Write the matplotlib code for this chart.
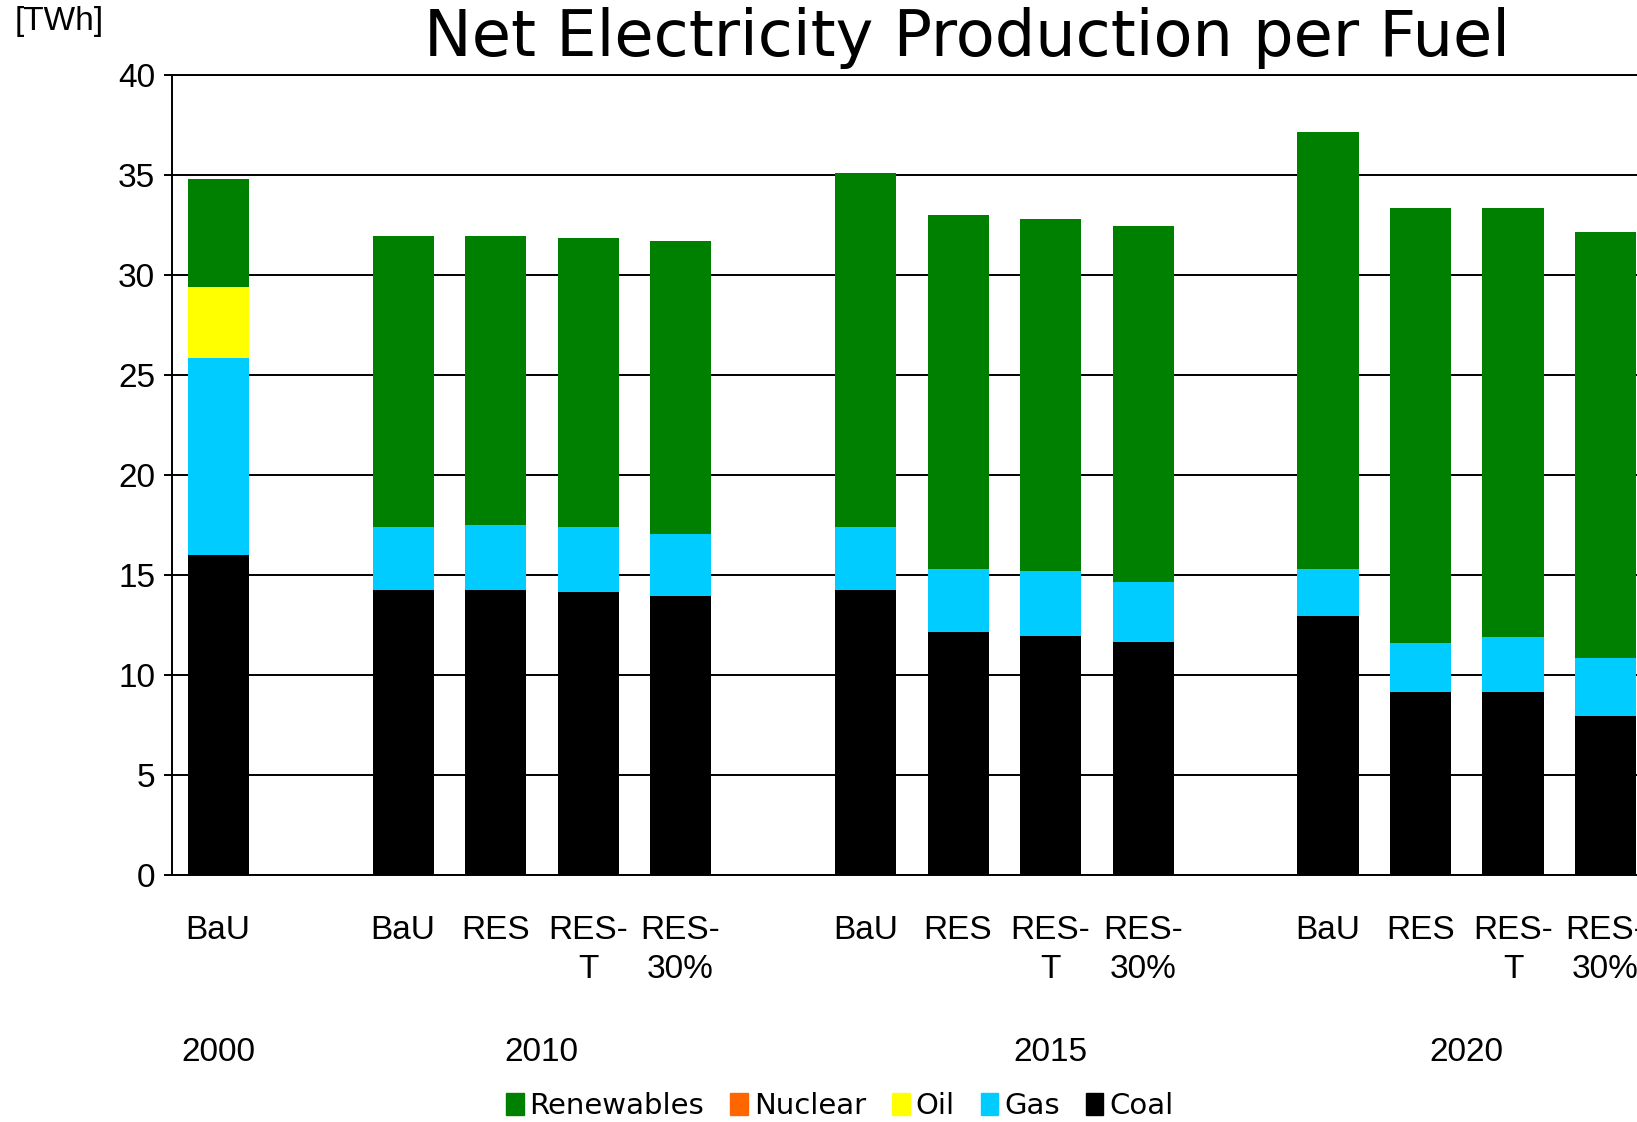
import matplotlib.pyplot as plt
from matplotlib.patches import Patch
from matplotlib.transforms import blended_transform_factory

# bar slots (None = empty slot between year groups)
scenarios = ['BaU', None, 'BaU', 'RES', 'RES-\nT', 'RES-\n30%', None,
             'BaU', 'RES', 'RES-\nT', 'RES-\n30%', None,
             'BaU', 'RES', 'RES-\nT', 'RES-\n30%']

years = ['2000', '2010', '2015', '2020']
year_pos = [0, 3.5, 9, 13.5]

# TWh per fuel, one value per slot
coal = [16.0, 0, 14.26, 14.26, 14.15, 13.94, 0,
        14.26, 12.17, 11.96, 11.64, 0,
        12.95, 9.14, 9.14, 7.94]
gas = [9.85, 0, 3.13, 3.23, 3.24, 3.14, 0,
       3.13, 3.13, 3.24, 3.03, 0,
       2.35, 2.45, 2.77, 2.92]
oil = [3.55, 0, 0, 0, 0, 0, 0, 0, 0, 0, 0, 0, 0, 0, 0, 0]
nuclear = [0] * 16
renewables = [5.43, 0, 14.57, 14.47, 14.46, 14.62, 0,
              17.70, 17.70, 17.59, 17.81, 0,
              21.88, 21.78, 21.46, 21.31]

fuels = ['Coal', 'Gas', 'Oil', 'Nuclear', 'Renewables']
values = [coal, gas, oil, nuclear, renewables]
colors = ['#000000', '#00CCFF', '#FFFF00', '#FF6600', '#008000']

plt.rcParams['font.family'] = ['Liberation Sans', 'DejaVu Sans']

fig = plt.figure(figsize=(16.37, 11.22), dpi=100)
ax = fig.add_axes([0.105, 0.22, 0.904, 0.713])

x = list(range(len(scenarios)))
bottom = [0.0] * len(x)
for name, vals, col in zip(fuels, values, colors):
    ax.bar(x, vals, width=0.66, bottom=bottom, color=col, label=name, zorder=3)
    bottom = [b + v for b, v in zip(bottom, vals)]

ax.set_xlim(-0.5, len(x) - 0.5)
ax.set_ylim(0, 40)
ax.set_yticks(range(0, 41, 5))
ax.yaxis.grid(True, color='black', linewidth=1.4, zorder=0)
ax.set_axisbelow(True)
for s in ['left', 'bottom', 'top']:
    ax.spines[s].set_linewidth(1.4)
ax.spines['right'].set_visible(False)
ax.tick_params(axis='y', labelsize=24, length=6, width=1.4, pad=6)

ticks = [i for i, s in enumerate(scenarios) if s]
ax.set_xticks(ticks)
ax.set_xticklabels([scenarios[i] for i in ticks], fontsize=24, linespacing=1.3)
ax.tick_params(axis='x', length=0, pad=29)

trans = blended_transform_factory(ax.transData, ax.transAxes)
for yr, p in zip(years, year_pos):
    ax.text(p, -0.222, yr, transform=trans, ha='center', va='center', fontsize=24)

fig.text(0.009, 0.981, '[TWh]', fontsize=24, ha='left', va='center')
fig.text(0.591, 0.966, 'Net Electricity Production per Fuel', fontsize=46,
         ha='center', va='center', family='DejaVu Sans')

handles = [Patch(color=c, label=n) for n, c in zip(fuels[::-1], colors[::-1])]
fig.legend(handles=handles, loc='center', bbox_to_anchor=(0.513, 0.014), ncol=5,
           frameon=False, prop={'family': 'DejaVu Sans', 'size': 21},
           handlelength=0.6, handleheight=0.8, handletextpad=0.2, columnspacing=0.9)

fig.savefig('out.png', dpi=100)
